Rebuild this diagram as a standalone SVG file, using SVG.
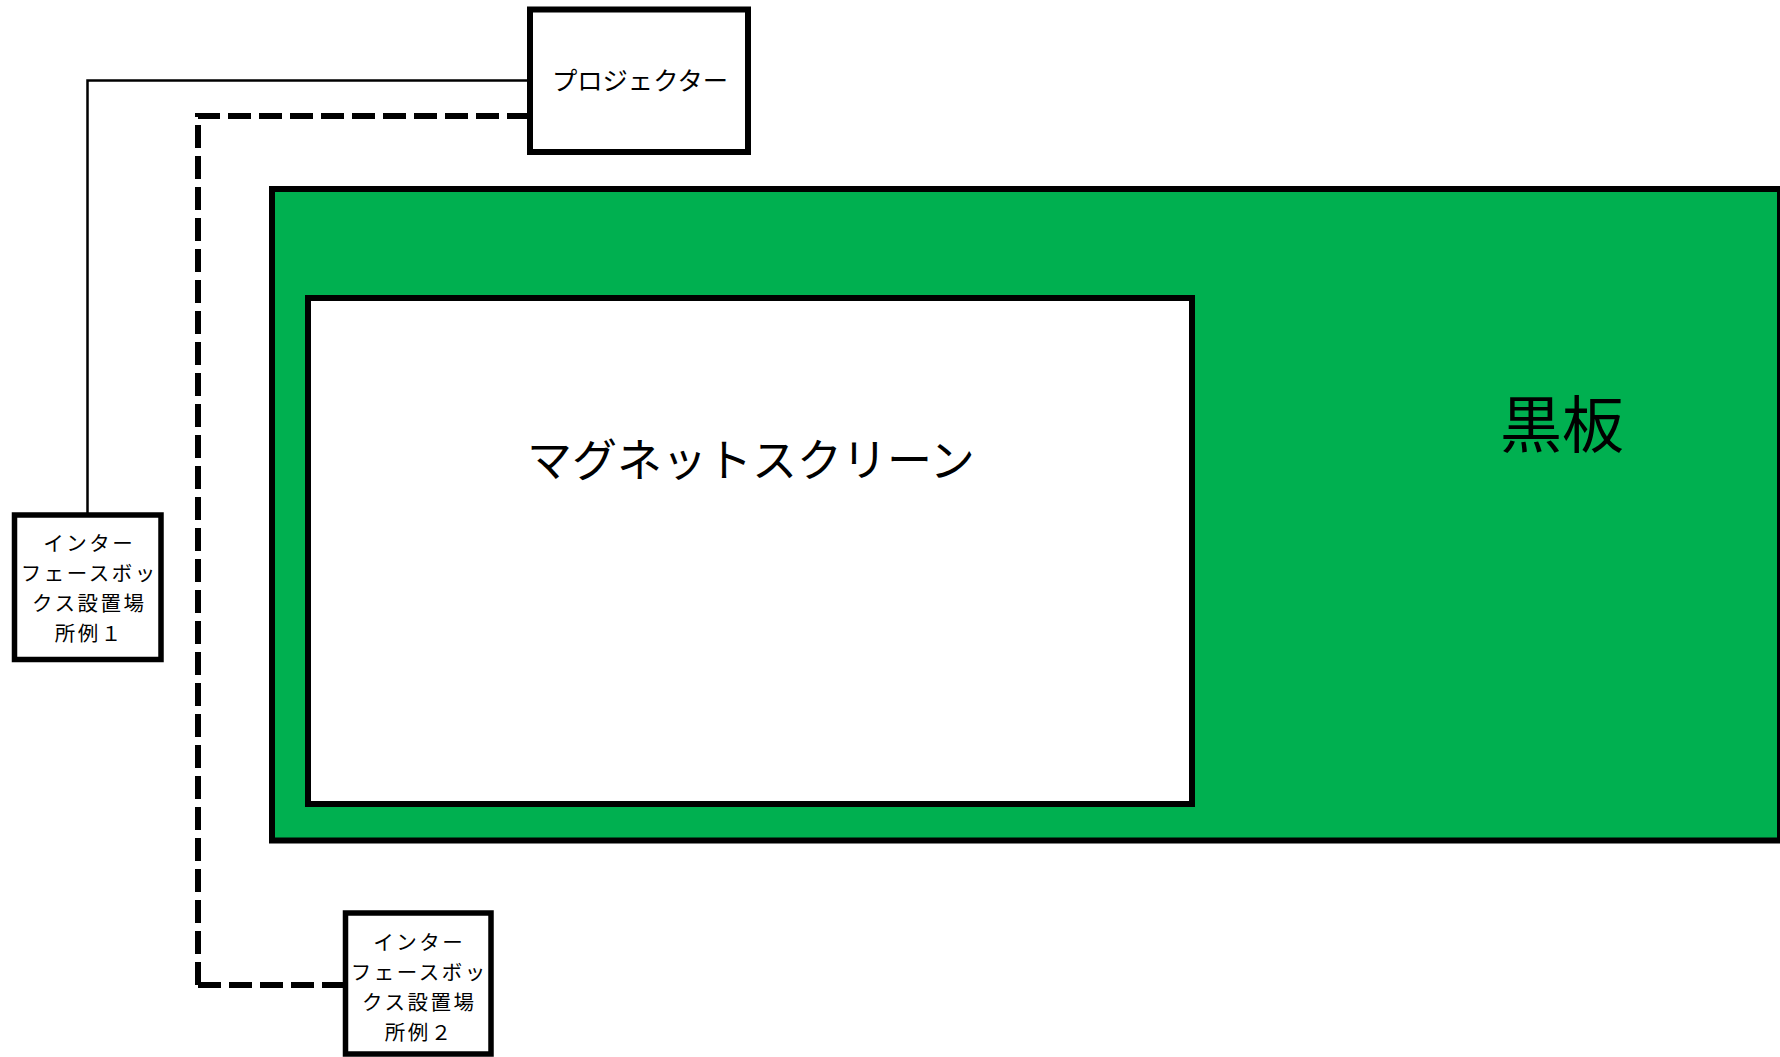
<svg xmlns="http://www.w3.org/2000/svg" width="1780" height="1057" viewBox="0 0 1780 1057">
  <style>
    .box { fill: #ffffff; stroke: #000000; stroke-width: 5.5; }
    .board { fill: #00B050; stroke: #000000; stroke-width: 6; }
    .screen { fill: #ffffff; stroke: #000000; stroke-width: 6; }
    .t { font-family: "Noto Sans CJK JP", "Noto Sans", sans-serif; fill: #000000; text-anchor: middle; }
    .small { font-size: 20.5px; letter-spacing: 2.5px; }
    .solid { fill: none; stroke: #000000; stroke-width: 2.5; }
    .dashed { fill: none; stroke: #000000; stroke-width: 6; stroke-dasharray: 23 8; }
  </style>
  <rect width="1780" height="1057" fill="#ffffff"/>
  <g id="blackboard">
    <rect class="board" x="272" y="189" width="1508" height="651.5"/>
    <text class="t" x="1562" y="447.5" font-size="62">黒板</text>
  </g>
  <g id="magnet-screen">
    <rect class="screen" x="308" y="298" width="884" height="506"/>
    <text class="t" x="751" y="477" font-size="45">マグネットスクリーン</text>
  </g>
  <g id="connectors">
    <path class="solid" d="M 530 80.5 H 87.5 V 515"/>
    <path class="dashed" d="M 198 985 V 116 H 530"/>
    <path class="dashed" d="M 198 985 H 345"/>
  </g>
  <g id="projector">
    <rect class="box" x="530" y="9.5" width="218" height="142.5" style="stroke-width:6"/>
    <text class="t" x="640" y="89.5" font-size="25.3">プロジェクター</text>
  </g>
  <g id="interface-box-1">
    <rect class="box" x="14.5" y="515" width="146.5" height="144.5"/>
    <text class="t small" x="89.2" y="551">インター</text>
    <text class="t small" x="89.2" y="581">フェースボッ</text>
    <text class="t small" x="89.2" y="611">クス設置場</text>
    <text class="t small" x="89.2" y="641">所例１</text>
  </g>
  <g id="interface-box-2">
    <rect class="box" x="345.5" y="913" width="145.5" height="141"/>
    <text class="t small" x="419.2" y="950">インター</text>
    <text class="t small" x="419.2" y="980">フェースボッ</text>
    <text class="t small" x="419.2" y="1010">クス設置場</text>
    <text class="t small" x="419.2" y="1040">所例２</text>
  </g>
</svg>
